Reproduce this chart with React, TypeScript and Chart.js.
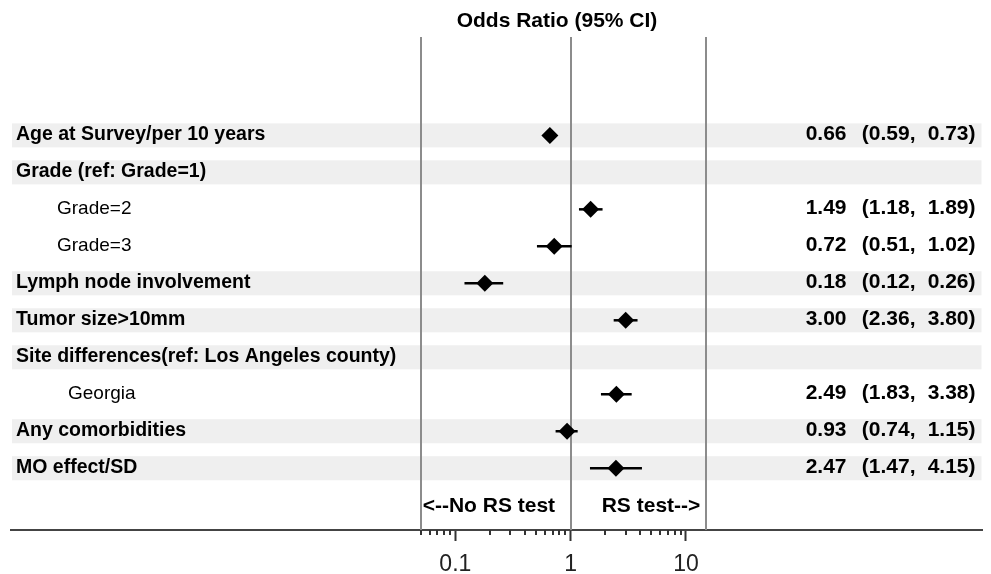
import { useEffect, useRef } from 'react';
import { Chart, registerables } from 'chart.js';

Chart.register(...registerables);

// ---------- data ----------
const rowLabels = [
  'Age at Survey/per 10 years',
  'Grade (ref: Grade=1)',
  'Grade=2',
  'Grade=3',
  'Lymph node involvement',
  'Tumor size>10mm',
  'Site differences(ref: Los Angeles county)',
  'Georgia',
  'Any comorbidities',
  'MO effect/SD',
];
const headerRows = [true, true, false, false, true, true, true, false, true, true];
const oddsRatio: (number | null)[] = [0.66, null, 1.49, 0.72, 0.18, 3.0, null, 2.49, 0.93, 2.47];
const ciLower: (number | null)[] = [0.59, null, 1.18, 0.51, 0.12, 2.36, null, 1.83, 0.74, 1.47];
const ciUpper: (number | null)[] = [0.73, null, 1.89, 1.02, 0.26, 3.8, null, 3.38, 1.15, 4.15];

const majorTicks = [0.1, 1, 10];
const minorTicks = [0.05, 0.06, 0.07, 0.08, 0.09, 0.2, 0.3, 0.4, 0.5, 0.6, 0.7, 0.8, 0.9, 2, 3, 4, 5, 6, 7, 8, 9];
const refLines = [0.05, 1, 15];

const titleText = 'Odds Ratio (95% CI)';
const leftNote = '<--No RS test';
const rightNote = 'RS test-->';

// ---------- layout constants ----------
const FONT = '"Liberation Sans", Arial, Helvetica, sans-serif';
const X_MIN = Math.pow(10, -4.853);
const X_MAX = Math.pow(10, 3.571);
const Y_MIN = -2.66;
const Y_MAX = 10.67;
const INDENT: Record<string, number> = { 'Grade=2': 41, 'Grade=3': 41, Georgia: 52 };

const forestPlugin = {
  id: 'forest',
  beforeDatasetsDraw(chart: any) {
    const { ctx, chartArea, scales } = chart;
    const x = scales.x;
    const y = scales.y;
    ctx.save();
    // row bands
    ctx.fillStyle = '#efefef';
    rowLabels.forEach((_, i) => {
      if (!headerRows[i]) return;
      const t = y.getPixelForValue(i - 0.325);
      const b = y.getPixelForValue(i + 0.325);
      ctx.fillRect(chartArea.left + 1, t, chartArea.right - chartArea.left - 2, b - t);
    });
    // reference lines
    ctx.strokeStyle = '#8c8c8c';
    ctx.lineWidth = 2;
    refLines.forEach((v) => {
      const px = Math.round(x.getPixelForValue(v));
      ctx.beginPath();
      ctx.moveTo(px, chartArea.top);
      ctx.lineTo(px, chartArea.bottom);
      ctx.stroke();
    });
    // confidence intervals
    ctx.strokeStyle = '#000';
    ctx.lineWidth = 2.5;
    rowLabels.forEach((_, i) => {
      const lo = ciLower[i];
      const hi = ciUpper[i];
      if (lo == null || hi == null) return;
      const py = y.getPixelForValue(i);
      ctx.beginPath();
      ctx.moveTo(x.getPixelForValue(lo), py);
      ctx.lineTo(x.getPixelForValue(hi), py);
      ctx.stroke();
    });
    ctx.restore();
  },
  afterDraw(chart: any) {
    const { ctx, chartArea, scales } = chart;
    const x = scales.x;
    const y = scales.y;
    ctx.save();
    // minor ticks
    ctx.strokeStyle = '#333';
    ctx.lineWidth = 2;
    minorTicks.forEach((v) => {
      const px = Math.round(x.getPixelForValue(v));
      ctx.beginPath();
      ctx.moveTo(px, chartArea.bottom);
      ctx.lineTo(px, chartArea.bottom + 5);
      ctx.stroke();
    });
    // left labels
    ctx.fillStyle = '#000';
    ctx.textBaseline = 'middle';
    rowLabels.forEach((lab, i) => {
      const py = y.getPixelForValue(i) - 1;
      ctx.font = `${headerRows[i] ? 'bold 19.5px' : '19px'} ${FONT}`;
      ctx.textAlign = 'left';
      ctx.fillText(lab, chartArea.left + 5 + (INDENT[lab] || 0), py);
    });
    // right estimates
    ctx.font = `bold 21px ${FONT}`;
    ctx.textAlign = 'right';
    rowLabels.forEach((_, i) => {
      const or = oddsRatio[i];
      const lo = ciLower[i];
      const hi = ciUpper[i];
      if (or == null || lo == null || hi == null) return;
      const py = y.getPixelForValue(i) - 1;
      ctx.fillText(or.toFixed(2), chartArea.right - 136, py);
      ctx.fillText(`(${lo.toFixed(2)},`, chartArea.right - 67, py);
      ctx.fillText(`${hi.toFixed(2)})`, chartArea.right - 7, py);
    });
    // notes
    const noteY = y.getPixelForValue(10) + 1;
    ctx.font = `bold 21px ${FONT}`;
    ctx.textAlign = 'left';
    ctx.fillText(leftNote, x.getPixelForValue(0.05) + 2, noteY);
    ctx.textAlign = 'right';
    ctx.fillText(rightNote, x.getPixelForValue(15) - 6, noteY);
    // title
    ctx.font = `bold 21px ${FONT}`;
    ctx.textAlign = 'center';
    ctx.fillText(titleText, 557, 21);
    ctx.restore();
  },
};

export default function App() {
  const canvasRef = useRef<HTMLCanvasElement | null>(null);

  useEffect(() => {
    if (!canvasRef.current) return;
    const points: { x: number; y: number }[] = [];
    oddsRatio.forEach((v, i) => {
      if (v != null) points.push({ x: v, y: i });
    });
    const chart = new Chart(canvasRef.current, {
      type: 'scatter',
      data: {
        datasets: [
          {
            data: points,
            pointStyle: 'rectRot',
            pointRadius: 8.5,
            pointHoverRadius: 8.5,
            backgroundColor: '#000',
            borderColor: '#000',
            borderWidth: 0,
            showLine: false,
          },
        ],
      },
      options: {
        animation: false,
        responsive: false,
        maintainAspectRatio: false,
        events: [],
        layout: { padding: { left: 11, right: 7, top: 37, bottom: 0 } },
        plugins: {
          legend: { display: false },
          tooltip: { enabled: false },
          title: { display: false },
        },
        scales: {
          x: {
            type: 'logarithmic',
            position: 'bottom',
            min: X_MIN,
            max: X_MAX,
            bounds: 'data',
            afterBuildTicks: (s: any) => {
              s.ticks = majorTicks.map((v) => ({ value: v }));
            },
            afterFit: (s: any) => {
              s.height = 44;
            },
            border: { display: true, color: '#444', width: 2 },
            grid: {
              display: true,
              drawOnChartArea: false,
              drawTicks: true,
              tickLength: 11,
              tickColor: '#333',
              tickWidth: 2,
            },
            ticks: {
              autoSkip: false,
              maxRotation: 0,
              padding: 10,
              color: '#222',
              font: { family: FONT, size: 23 },
              major: { enabled: false },
              callback: (v: any) => String(v),
            },
          },
          y: {
            type: 'linear',
            display: false,
            reverse: true,
            min: Y_MIN,
            max: Y_MAX,
          },
        },
      } as any,
      plugins: [forestPlugin],
    });
    return () => chart.destroy();
  }, []);

  return (
    <div style={{ position: 'absolute', left: 0, top: 0, width: 991, height: 574, background: '#fff' }}>
      <canvas ref={canvasRef} width={991} height={574} style={{ display: 'block' }} />
    </div>
  );
}
